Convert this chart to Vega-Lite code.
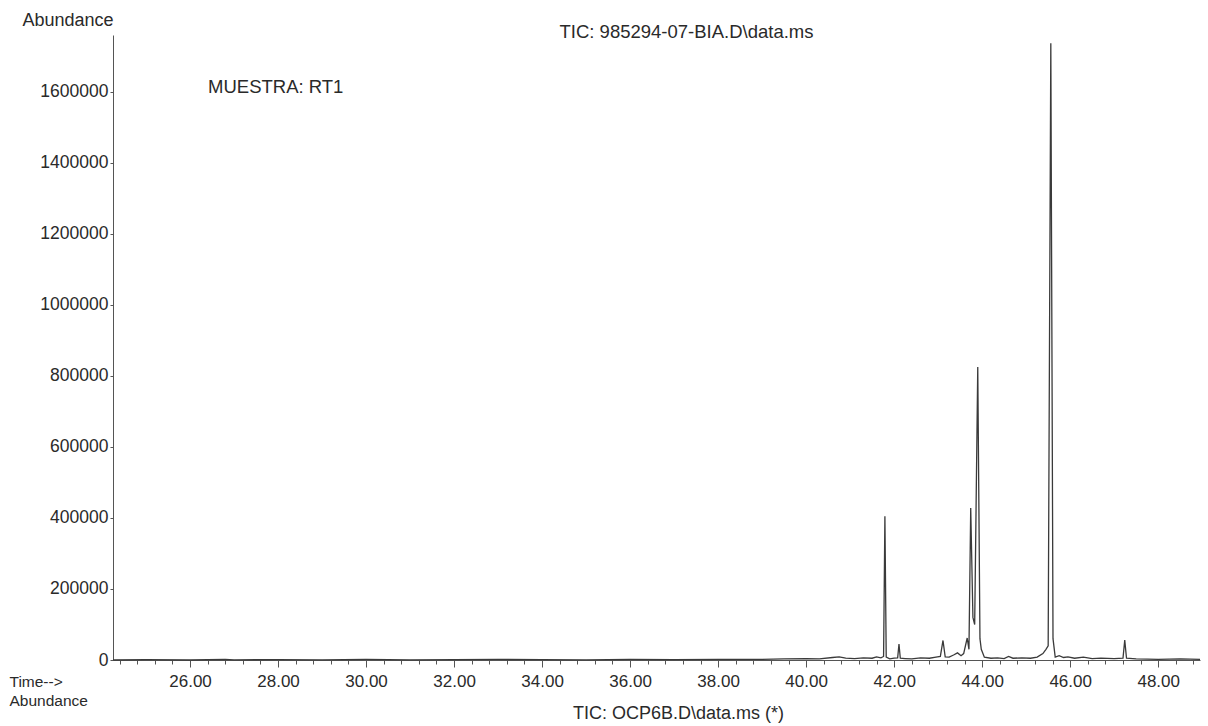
{
  "$schema": "https://vega.github.io/schema/vega-lite/v6.json",
  "width": 1087,
  "height": 625,
  "autosize": {"type": "none"},
  "padding": {"left": 113, "top": 35, "right": 8, "bottom": 66},
  "background": "white",
  "config": {
    "view": {"stroke": null},
    "font": "Liberation Sans",
    "axis": {"labelFont": "Liberation Sans", "titleFont": "Liberation Sans", "labelColor": "#2a2a2a", "titleColor": "#2a2a2a", "domainColor": "#555", "tickColor": "#555", "grid": false, "titleFontWeight": "normal"}
  },
  "title": {"text": "TIC: 985294-07-BIA.D\\data.ms", "font": "Liberation Sans", "fontSize": 18.5, "fontWeight": "normal", "color": "#2a2a2a", "anchor": "middle", "dx": 30, "offset": -30},
  "data": {"values": [
    {"t": 24.25, "a": 0}, {"t": 25.0, "a": 1000}, {"t": 26.0, "a": 0}, {"t": 26.8, "a": 2000}, {"t": 27.0, "a": 500},
    {"t": 28.0, "a": 1000}, {"t": 29.0, "a": 500}, {"t": 30.0, "a": 1500}, {"t": 31.0, "a": 500}, {"t": 32.0, "a": 1000},
    {"t": 33.0, "a": 1500}, {"t": 34.0, "a": 1000}, {"t": 35.0, "a": 500}, {"t": 36.0, "a": 1500}, {"t": 37.0, "a": 1000},
    {"t": 38.0, "a": 2000}, {"t": 39.0, "a": 1500}, {"t": 39.5, "a": 3000}, {"t": 40.0, "a": 4000}, {"t": 40.3, "a": 3000},
    {"t": 40.6, "a": 7000}, {"t": 40.75, "a": 9000}, {"t": 40.9, "a": 5000}, {"t": 41.1, "a": 4000}, {"t": 41.3, "a": 6000},
    {"t": 41.5, "a": 5000}, {"t": 41.6, "a": 9000}, {"t": 41.7, "a": 6000}, {"t": 41.76, "a": 10000}, {"t": 41.79, "a": 405000},
    {"t": 41.82, "a": 8000}, {"t": 41.9, "a": 3000}, {"t": 42.0, "a": 5000}, {"t": 42.08, "a": 6000}, {"t": 42.11, "a": 45000},
    {"t": 42.14, "a": 5000}, {"t": 42.25, "a": 4000}, {"t": 42.4, "a": 3000}, {"t": 42.6, "a": 6000}, {"t": 42.8, "a": 5000},
    {"t": 42.95, "a": 8000}, {"t": 43.05, "a": 10000}, {"t": 43.11, "a": 55000}, {"t": 43.16, "a": 9000}, {"t": 43.25, "a": 8000},
    {"t": 43.35, "a": 14000}, {"t": 43.44, "a": 20000}, {"t": 43.52, "a": 12000}, {"t": 43.58, "a": 18000}, {"t": 43.66, "a": 62000},
    {"t": 43.7, "a": 30000}, {"t": 43.74, "a": 428000}, {"t": 43.79, "a": 120000}, {"t": 43.83, "a": 100000}, {"t": 43.9, "a": 825000},
    {"t": 43.95, "a": 60000}, {"t": 43.98, "a": 30000}, {"t": 44.05, "a": 8000}, {"t": 44.2, "a": 5000}, {"t": 44.35, "a": 6000},
    {"t": 44.5, "a": 4000}, {"t": 44.6, "a": 10000}, {"t": 44.7, "a": 5000}, {"t": 44.9, "a": 6000}, {"t": 45.1, "a": 5000},
    {"t": 45.25, "a": 8000}, {"t": 45.38, "a": 18000}, {"t": 45.45, "a": 30000}, {"t": 45.5, "a": 40000}, {"t": 45.56, "a": 1737000},
    {"t": 45.61, "a": 60000}, {"t": 45.66, "a": 8000}, {"t": 45.75, "a": 12000}, {"t": 45.85, "a": 7000}, {"t": 45.95, "a": 9000},
    {"t": 46.1, "a": 5000}, {"t": 46.3, "a": 8000}, {"t": 46.5, "a": 4000}, {"t": 46.7, "a": 5000}, {"t": 47.0, "a": 4000},
    {"t": 47.2, "a": 5000}, {"t": 47.24, "a": 56000}, {"t": 47.28, "a": 5000}, {"t": 47.5, "a": 3000}, {"t": 48.0, "a": 2000},
    {"t": 48.5, "a": 3000}, {"t": 48.95, "a": 2000}
  ]},
  "layer": [
    {
      "mark": {"type": "line", "color": "#3a3a3a", "strokeWidth": 1.3, "interpolate": "linear"},
      "encoding": {
        "x": {"field": "t", "type": "quantitative", "scale": {"domain": [24.25, 48.95], "nice": false, "zero": false},
          "axis": {"orient": "bottom", "values": [26, 28, 30, 32, 34, 36, 38, 40, 42, 44, 46, 48], "format": ".2f", "labelFontSize": 17, "tickSize": 7, "labelPadding": 6,
            "title": ["Time-->", "Abundance"], "titleFontSize": 15.5, "titleAlign": "left", "titleAnchor": null, "titleBaseline": "top", "titleX": -104, "titleY": 14, "titleLineHeight": 19}},
        "y": {"field": "a", "type": "quantitative", "scale": {"domain": [0, 1760000], "nice": false},
          "axis": {"values": [0, 200000, 400000, 600000, 800000, 1000000, 1200000, 1400000, 1600000], "format": "d", "labelFontSize": 17.5, "tickSize": 3, "labelPadding": 2,
            "title": "Abundance", "titleFontSize": 18, "titleAngle": 0, "titleAlign": "right", "titleBaseline": "middle", "titleX": 0, "titleY": -15}}
      }
    },
    {
      "mark": {"type": "line", "strokeOpacity": 0},
      "encoding": {
        "x": {"field": "t", "type": "quantitative",
          "axis": {"orient": "bottom", "values": [24.4, 24.8, 25.2, 25.6, 26.0, 26.4, 26.8, 27.2, 27.6, 28.0, 28.4, 28.8, 29.2, 29.6, 30.0, 30.4, 30.8, 31.2, 31.6, 32.0, 32.4, 32.8, 33.2, 33.6, 34.0, 34.4, 34.8, 35.2, 35.6, 36.0, 36.4, 36.8, 37.2, 37.6, 38.0, 38.4, 38.8, 39.2, 39.6, 40.0, 40.4, 40.8, 41.2, 41.6, 42.0, 42.4, 42.8, 43.2, 43.6, 44.0, 44.4, 44.8, 45.2, 45.6, 46.0, 46.4, 46.8, 47.2, 47.6, 48.0, 48.4, 48.8], "labels": false, "tickSize": 4, "domain": false,
            "title": "TIC: OCP6B.D\\data.ms (*)", "titleFontSize": 18, "titleAlign": "center", "titleAnchor": null, "titleBaseline": "middle", "titleX": 565, "titleY": 53}},
        "y": {"field": "a", "type": "quantitative", "scale": {"domain": [0, 1760000], "nice": false},
          "axis": {"values": [0, 200000, 400000, 600000, 800000, 1000000, 1200000, 1400000, 1600000], "format": "d", "labelFontSize": 17.5, "tickSize": 3, "labelPadding": 2,
            "title": "Abundance", "titleFontSize": 18, "titleAngle": 0, "titleAlign": "right", "titleBaseline": "middle", "titleX": 0, "titleY": -15}}
      }
    },
    {
      "data": {"values": [{"label": "MUESTRA: RT1"}]},
      "mark": {"type": "text", "align": "left", "baseline": "middle", "fontSize": 18.5, "font": "Liberation Sans", "color": "#2a2a2a"},
      "encoding": {
        "x": {"datum": 26.41, "type": "quantitative", "axis": null},
        "y": {"datum": 1613000, "type": "quantitative", "scale": {"domain": [0, 1760000], "nice": false},
          "axis": {"values": [0, 200000, 400000, 600000, 800000, 1000000, 1200000, 1400000, 1600000], "format": "d", "labelFontSize": 17.5, "tickSize": 3, "labelPadding": 2,
            "title": "Abundance", "titleFontSize": 18, "titleAngle": 0, "titleAlign": "right", "titleBaseline": "middle", "titleX": 0, "titleY": -15}},
        "text": {"field": "label"}
      }
    }
  ],
  "resolve": {"axis": {"x": "independent"}}
}
